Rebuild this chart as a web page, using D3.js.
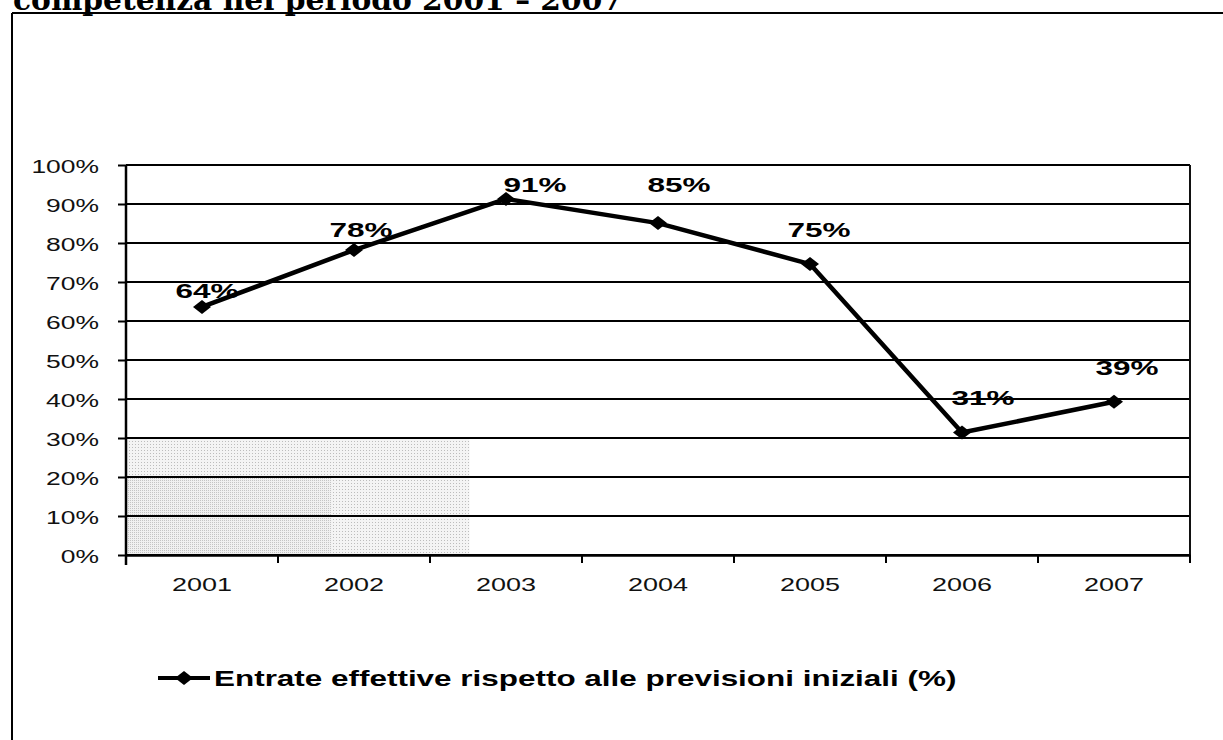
<!DOCTYPE html>
<html>
<head>
<meta charset="utf-8">
<script src="https://cdn.jsdelivr.net/npm/d3@7"></script>
<style>
  html, body { margin: 0; padding: 0; background: #fff; }
  svg { display: block; }
</style>
</head>
<body>
<svg id="chart" width="1223" height="740"></svg>
<script>
// ---- data ----
const titleText = "competenza nel periodo 2001 – 2007";
const years = ["2001", "2002", "2003", "2004", "2005", "2006", "2007"];
const values = [63.6, 78.2, 91.3, 85.1, 74.6, 31.4, 39.3];
const valueLabels = ["64%", "78%", "91%", "85%", "75%", "31%", "39%"];
const yTicks = [0, 10, 20, 30, 40, 50, 60, 70, 80, 90, 100];
const seriesName = "Entrate effettive rispetto alle previsioni iniziali (%)";
// label nudges (layout only): [dx, dy] relative to point
const labelOffsets = [[5, -9], [7, -13], [29, -7], [21, -31], [9, -27], [21, -28], [13, -27]];

// ---- layout ----
const W = 1223, H = 740;
const plot = { left: 126, right: 1190, top: 165, bottom: 555 };
const SX = 1.45; // horizontal stretch of the scanned text
const FONT = "'Liberation Sans', Arial, sans-serif";

const svg = d3.select("#chart");

// dotted scan texture
const defs = svg.append("defs");
const pat = defs.append("pattern").attr("id", "dots").attr("width", 3).attr("height", 3)
  .attr("patternUnits", "userSpaceOnUse");
pat.append("rect").attr("width", 3).attr("height", 3).attr("fill", "#f4f4f4");
pat.append("rect").attr("width", 1).attr("height", 1).attr("fill", "#bdbdbd");
const pat2 = defs.append("pattern").attr("id", "dots2").attr("width", 2).attr("height", 2)
  .attr("patternUnits", "userSpaceOnUse");
pat2.append("rect").attr("width", 2).attr("height", 2).attr("fill", "#f0f0f0");
pat2.append("rect").attr("width", 1).attr("height", 1).attr("fill", "#c4c4c4");

const x = d3.scaleBand().domain(years).range([plot.left, plot.right]);
const y = d3.scaleLinear().domain([0, 100]).range([plot.bottom, plot.top]);

// frame of the document box
svg.append("line").attr("x1", 12).attr("x2", W).attr("y1", 13).attr("y2", 13)
  .attr("stroke", "#000").attr("stroke-width", 2);
svg.append("line").attr("x1", 12).attr("x2", 12).attr("y1", 13).attr("y2", H)
  .attr("stroke", "#000").attr("stroke-width", 2);

// cut-off title of the page
svg.append("text")
  .attr("x", 13).attr("y", 10)
  .attr("font-family", "'DejaVu Serif', 'Liberation Serif', serif")
  .attr("font-weight", "bold")
  .attr("font-size", 30)
  .attr("textLength", 610)
  .attr("lengthAdjust", "spacingAndGlyphs")
  .attr("fill", "#000")
  .text(titleText);

// scanned grey shading (bottom-left of plot)
svg.append("rect")
  .attr("x", x.range()[0])
  .attr("y", y(30))
  .attr("width", x("2003") + x.bandwidth() * 0.26 - x.range()[0])
  .attr("height", y(0) - y(30))
  .attr("fill", "url(#dots)");
svg.append("rect")
  .attr("x", x.range()[0])
  .attr("y", y(20))
  .attr("width", x("2002") + x.bandwidth() * 0.35 - x.range()[0])
  .attr("height", y(0) - y(20))
  .attr("fill", "url(#dots2)");

// gridlines
svg.append("g").selectAll("line").data(yTicks).join("line")
  .attr("x1", plot.left).attr("x2", plot.right)
  .attr("y1", d => y(d)).attr("y2", d => y(d))
  .attr("stroke", "#000").attr("stroke-width", 2);

// right border of plot area
svg.append("line").attr("x1", plot.right).attr("x2", plot.right)
  .attr("y1", y(100)).attr("y2", y(0))
  .attr("stroke", "#111").attr("stroke-width", 2);

// y axis
const yAxis = svg.append("g")
  .attr("transform", `translate(${plot.left},0)`)
  .call(d3.axisLeft(y).tickValues(yTicks).tickSize(8).tickPadding(0).tickFormat(d => d + "%"));
yAxis.select(".domain").attr("stroke", "#000").attr("stroke-width", 2.5)
  .attr("d", `M0,${y(100)}V${y(0) + 10}`);
yAxis.selectAll(".tick line").attr("stroke", "#000").attr("stroke-width", 2);
yAxis.selectAll(".tick text")
  .attr("x", 0).attr("dy", "0.36em")
  .attr("transform", `translate(-27,1) scale(${SX + 0.02},1)`)
  .attr("font-family", FONT).attr("font-size", 18).attr("fill", "#111");

// x axis
const xAxis = svg.append("g")
  .attr("transform", `translate(0,${plot.bottom})`)
  .call(d3.axisBottom(x).tickSize(0).tickPadding(0));
xAxis.select(".domain").attr("stroke", "#000").attr("stroke-width", 2.5);
xAxis.selectAll(".tick text")
  .attr("y", 0).attr("dy", 0)
  .attr("transform", `translate(0,36) scale(${SX - 0.03},1)`)
  .attr("font-family", FONT).attr("font-size", 19).attr("fill", "#111");
// category boundary ticks
const bounds = years.map(d => x(d)).concat([plot.right]);
xAxis.append("g").selectAll("line").data(bounds.slice(1)).join("line")
  .attr("x1", d => d).attr("x2", d => d).attr("y1", 0).attr("y2", 8)
  .attr("stroke", "#000").attr("stroke-width", 2);

// series line
const pts = years.map((d, i) => ({ year: d, v: values[i], label: valueLabels[i], off: labelOffsets[i] }));
const line = d3.line().x(d => x(d.year) + x.bandwidth() / 2).y(d => y(d.v));
svg.append("path").datum(pts)
  .attr("d", line).attr("fill", "none")
  .attr("stroke", "#000").attr("stroke-width", 4.5).attr("stroke-linejoin", "round");

const diamond = "M-9,0L0,-7L9,0L0,7Z";
svg.append("g").selectAll("path").data(pts).join("path")
  .attr("d", diamond)
  .attr("transform", d => `translate(${x(d.year) + x.bandwidth() / 2},${y(d.v)})`)
  .attr("fill", "#000");

// value labels
svg.append("g").selectAll("text").data(pts).join("text")
  .attr("text-anchor", "middle")
  .attr("transform", d => `translate(${x(d.year) + x.bandwidth() / 2 + d.off[0]},${y(d.v) + d.off[1]}) scale(${SX + 0.05},1)`)
  .attr("font-family", FONT).attr("font-weight", "bold").attr("font-size", 21)
  .attr("fill", "#000")
  .text(d => d.label);

// legend
const lg = svg.append("g").attr("transform", "translate(158,678)");
lg.append("line").attr("x1", 0).attr("x2", 52).attr("y1", 0).attr("y2", 0)
  .attr("stroke", "#000").attr("stroke-width", 4);
lg.append("path").attr("d", diamond).attr("transform", "translate(26,0)").attr("fill", "#000");
lg.append("text")
  .attr("transform", `translate(56,8) scale(${SX - 0.02},1)`)
  .attr("font-family", FONT).attr("font-weight", "bold").attr("font-size", 22)
  .attr("fill", "#000")
  .text(seriesName);
</script>
</body>
</html>
